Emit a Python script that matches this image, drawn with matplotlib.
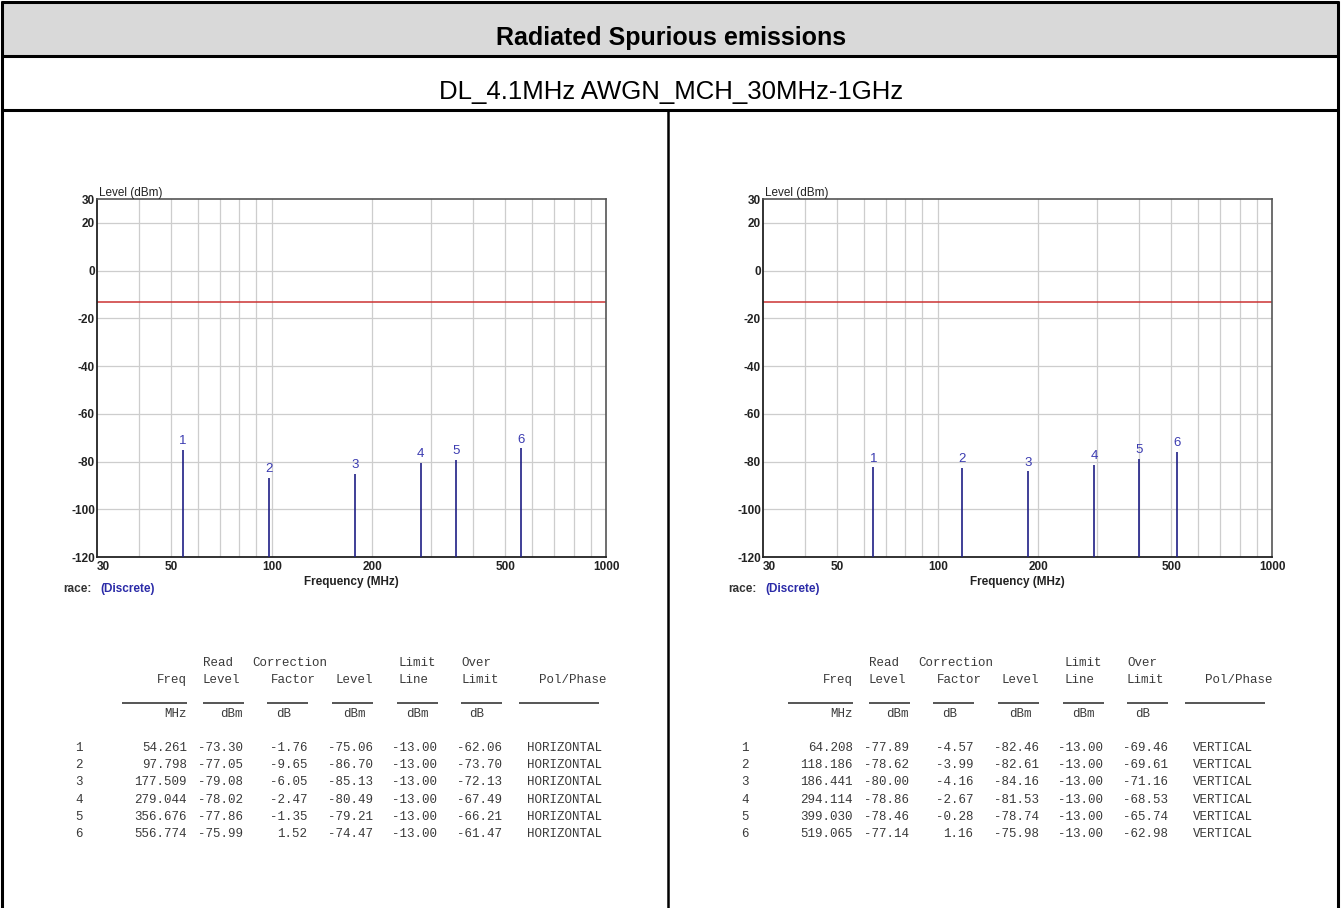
import matplotlib
matplotlib.use("Agg")
import matplotlib.pyplot as plt
from matplotlib.lines import Line2D
from matplotlib.patches import Rectangle

W, H = 1343, 908

# ---------------- data ----------------
title = "Radiated Spurious emissions"
subtitle = "DL_4.1MHz AWGN_MCH_30MHz-1GHz"

marker_ids = [1, 2, 3, 4, 5, 6]

freq_h = [54.261, 97.798, 177.509, 279.044, 356.676, 556.774]
read_h = [-73.30, -77.05, -79.08, -78.02, -77.86, -75.99]
corr_h = [-1.76, -9.65, -6.05, -2.47, -1.35, 1.52]
level_h = [-75.06, -86.70, -85.13, -80.49, -79.21, -74.47]
limit_h = [-13.00, -13.00, -13.00, -13.00, -13.00, -13.00]
over_h = [-62.06, -73.70, -72.13, -67.49, -66.21, -61.47]
pol_h = ["HORIZONTAL"] * 6

freq_v = [64.208, 118.186, 186.441, 294.114, 399.030, 519.065]
read_v = [-77.89, -78.62, -80.00, -78.86, -78.46, -77.14]
corr_v = [-4.57, -3.99, -4.16, -2.67, -0.28, 1.16]
level_v = [-82.46, -82.61, -84.16, -81.53, -78.74, -75.98]
limit_v = [-13.00, -13.00, -13.00, -13.00, -13.00, -13.00]
over_v = [-69.46, -69.61, -71.16, -68.53, -65.74, -62.98]
pol_v = ["VERTICAL"] * 6

limit_line = -13.0
y_ticks = [30, 20, 0, -20, -40, -60, -80, -100, -120]
x_grid = [40, 50, 60, 70, 80, 90, 100, 200, 300, 400, 500, 600, 700, 800, 900]
x_labels = [30, 50, 100, 200, 500, 1000]

# ---------------- helpers ----------------
def fx(x):
    return x / W

def fy(y):
    return 1 - y / H

NARROW = ["Liberation Sans Narrow", "Liberation Sans", "DejaVu Sans"]
SANS = ["Liberation Sans", "DejaVu Sans"]
MONO = ["Liberation Mono", "DejaVu Sans Mono"]

fig = plt.figure(figsize=(W / 100, H / 100), dpi=100)
fig.patch.set_facecolor("white")

# ---------------- outer table frame ----------------
fig.add_artist(Rectangle((fx(2), fy(56)), fx(1338) - fx(2), fy(2) - fy(56),
                         transform=fig.transFigure, facecolor="#d9d9d9",
                         edgecolor="none", zorder=0))

def hline(y, x0, x1, lw=2.2, color="black"):
    fig.add_artist(Line2D([fx(x0), fx(x1)], [fy(y), fy(y)], transform=fig.transFigure,
                          color=color, lw=lw, solid_capstyle="butt"))

def vline(x, y0, y1, lw=2.2, color="black"):
    fig.add_artist(Line2D([fx(x), fx(x)], [fy(y0), fy(y1)], transform=fig.transFigure,
                          color=color, lw=lw, solid_capstyle="butt"))

hline(2, 1, 1339)
hline(56, 1, 1339)
hline(110, 1, 1339)
vline(2, 1, 908)
vline(1338, 1, 908)
vline(668, 110, 908, lw=1.8)

fig.text(fx(671), fy(38), title, ha="center", va="center", fontsize=18,
         fontweight="bold", family=SANS, color="black")
fig.text(fx(671), fy(92), subtitle, ha="center", va="center", fontsize=18.5,
         family=SANS, color="black")

# ---------------- charts ----------------
def draw_chart(x0, freqs, levels):
    ax = fig.add_axes([fx(x0), fy(557), fx(509), 358 / H])
    ax.set_xscale("log")
    ax.set_xlim(30, 1000)
    ax.set_ylim(-120, 30)
    for g in x_grid:
        ax.axvline(g, color="#cdcdcd", lw=0.9, zorder=1)
    for t in y_ticks[1:-1]:
        ax.axhline(t, color="#cdcdcd", lw=0.9, zorder=1)
    ax.axhline(limit_line, color="#cc3333", lw=1.1, zorder=2)
    ax.vlines(freqs, -120, levels, color="#1f1f85", lw=1.2, zorder=3)
    for i, (f, l) in enumerate(zip(freqs, levels)):
        ax.annotate(str(marker_ids[i]), (f, l), xytext=(0, 2), textcoords="offset points",
                    ha="center", va="bottom", fontsize=9.5, color="#3b3bb0", family=NARROW)
    ax.set_yticks(y_ticks)
    ax.set_yticklabels([str(t) for t in y_ticks], fontsize=8.5, fontweight="bold",
                       family=NARROW, color="#222222")
    ax.set_xticks(x_labels)
    ax.set_xticklabels([str(t) for t in x_labels], fontsize=8.5, fontweight="bold",
                       family=NARROW, color="#222222")
    ax.xaxis.set_minor_locator(matplotlib.ticker.NullLocator())
    ax.tick_params(axis="both", length=0)
    ax.tick_params(axis="y", pad=1.5)
    ax.tick_params(axis="x", pad=3)
    ax.get_xticklabels()[0].set_horizontalalignment("left")
    for side in ["left", "bottom"]:
        ax.spines[side].set_color("#222222")
        ax.spines[side].set_linewidth(1.3)
    for side in ["top", "right"]:
        ax.spines[side].set_color("#555555")
        ax.spines[side].set_linewidth(1.2)
    ax.set_xlabel("Frequency (MHz)", fontsize=8.5, fontweight="bold", family=NARROW,
                  color="#222222", labelpad=2)
    ax.text(0.004, 1.0, "Level (dBm)", transform=ax.transAxes, ha="left", va="bottom",
            fontsize=8.5, family=NARROW, color="#222222")
    return ax

draw_chart(97, freq_h, level_h)
draw_chart(763, freq_v, level_v)

# trace labels
for dx in (0, 665):
    fig.text(fx(63 + dx), fy(589), "race:", ha="left", va="center", fontsize=8.5,
             fontweight="bold", family=NARROW, color="#333333")
    fig.text(fx(100 + dx), fy(589), "(Discrete)", ha="left", va="center", fontsize=8.5,
             fontweight="bold", family=NARROW, color="#2b2ba8")

# ---------------- data tables ----------------
TC = "#3a3a3a"
FS = 9

def t(x, y, s, ha):
    fig.text(fx(x), fy(y), s, ha=ha, va="center", fontsize=FS, family=MONO, color=TC)

def draw_table(dx, freqs, reads, corrs, levels, limits, overs, pols):
    t(203 + dx, 663, "Read", "left")
    t(252 + dx, 663, "Correction", "left")
    t(398 + dx, 663, "Limit", "left")
    t(461 + dx, 663, "Over", "left")
    t(187 + dx, 680, "Freq", "right")
    t(203 + dx, 680, "Level", "left")
    t(316 + dx, 680, "Factor", "right")
    t(373 + dx, 680, "Level", "right")
    t(398 + dx, 680, "Line", "left")
    t(461 + dx, 680, "Limit", "left")
    t(607 + dx, 680, "Pol/Phase", "right")
    for a, b in [(122, 187), (203, 244), (267, 308), (332, 373), (397, 438), (461, 502), (519, 599)]:
        hline(703, a + dx, b + dx, lw=1.4, color="#555555")
    t(187 + dx, 714, "MHz", "right")
    t(243 + dx, 714, "dBm", "right")
    t(284 + dx, 714, "dB", "center")
    t(354 + dx, 714, "dBm", "center")
    t(417 + dx, 714, "dBm", "center")
    t(477 + dx, 714, "dB", "center")
    for i in range(len(freqs)):
        y = 748 + i * 17.2
        t(75 + dx, y, str(marker_ids[i]), "left")
        t(187 + dx, y, f"{freqs[i]:.3f}", "right")
        t(243 + dx, y, f"{reads[i]:.2f}", "right")
        t(307 + dx, y, f"{corrs[i]:.2f}", "right")
        t(373 + dx, y, f"{levels[i]:.2f}", "right")
        t(437 + dx, y, f"{limits[i]:.2f}", "right")
        t(502 + dx, y, f"{overs[i]:.2f}", "right")
        t(527 + dx, y, pols[i], "left")

draw_table(0, freq_h, read_h, corr_h, level_h, limit_h, over_h, pol_h)
draw_table(666, freq_v, read_v, corr_v, level_v, limit_v, over_v, pol_v)

fig.savefig("out.png", dpi=100, facecolor="white")
